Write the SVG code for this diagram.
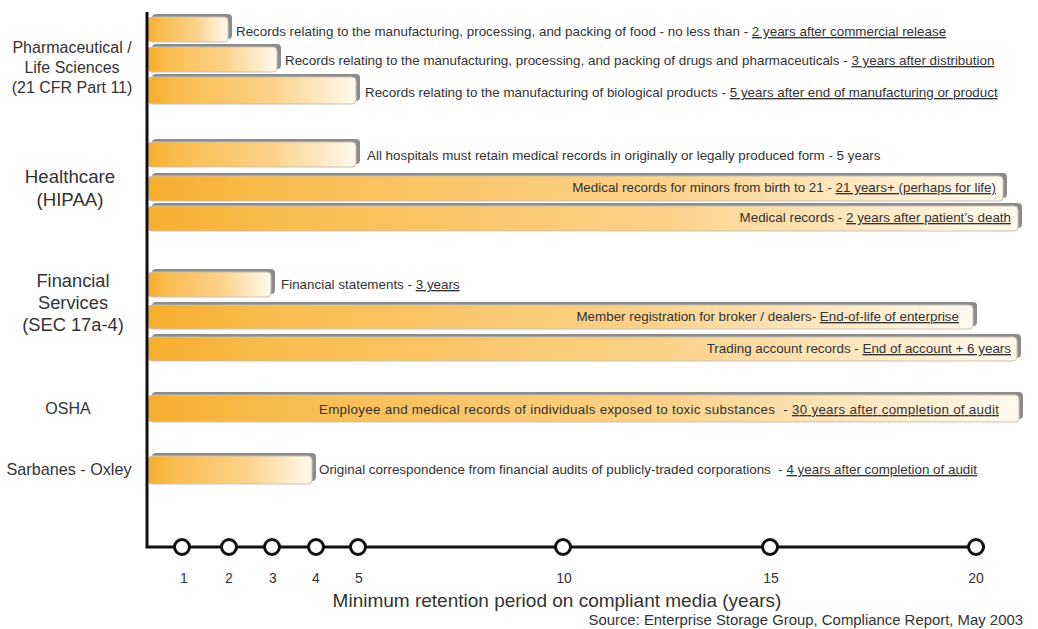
<svg xmlns="http://www.w3.org/2000/svg" width="1038" height="629" viewBox="0 0 1038 629">
<defs>
<linearGradient id="g" x1="0" y1="0" x2="1" y2="0">
<stop offset="0" stop-color="#F7AE2E"/>
<stop offset="0.15" stop-color="#F9BC4E"/>
<stop offset="0.6" stop-color="#FCD28A"/>
<stop offset="1" stop-color="#FFF9EE"/>
</linearGradient>
<style>
.sh{fill:#8c8c8c}
.bar{fill:url(#g);stroke:#c9c2b6;stroke-width:1}
.t{font-family:"Liberation Sans",Arial,sans-serif;font-size:13.4px;fill:#333}
.lab{font-family:"Liberation Sans",Arial,sans-serif;fill:#333;text-anchor:middle}
.u{text-decoration:underline}
.ax{stroke:#111;stroke-width:3;fill:none}
.c{fill:#fff;stroke:#111;stroke-width:3}
.tick{font-family:"Liberation Sans",Arial,sans-serif;font-size:14px;fill:#333;text-anchor:middle}
</style>
</defs>
<rect width="1038" height="629" fill="#fff"/>

<g id="labels">
<g id="pharma"><text class="lab" font-size="16" x="72" y="53">Pharmaceutical /</text><text class="lab" font-size="16" x="72" y="73">Life Sciences</text><text class="lab" font-size="16" x="72" y="93">(21 CFR Part 11)</text></g>
<g id="health"><text class="lab" font-size="18.7" x="70" y="183">Healthcare</text><text class="lab" font-size="18.7" x="70" y="206">(HIPAA)</text></g>
<g id="fin"><text class="lab" font-size="18.3" x="73" y="287">Financial</text><text class="lab" font-size="18.3" x="73" y="309">Services</text><text class="lab" font-size="18.3" x="73" y="331">(SEC 17a-4)</text></g>
<g id="osha"><text class="lab" font-size="16" x="68" y="414">OSHA</text></g>
<g id="sox"><text class="lab" font-size="16.2" x="69" y="475">Sarbanes - Oxley</text></g>
</g>

<g id="bars">
<g id="b1"><rect class="sh" x="152" y="14" width="80" height="25" rx="4"/><rect class="bar" x="148" y="17" width="80" height="25" rx="4"/>
<text class="t" x="236" y="36">Records relating to the manufacturing, processing, and packing of food - no less than - <tspan class="u">2 years after commercial release</tspan></text></g>
<g id="b2"><rect class="sh" x="152" y="44" width="129" height="25" rx="4"/><rect class="bar" x="148" y="47" width="129" height="25" rx="4"/>
<text class="t" x="285" y="65">Records relating to the manufacturing, processing, and packing of drugs and pharmaceuticals - <tspan class="u">3 years after distribution</tspan></text></g>
<g id="b3"><rect class="sh" x="152" y="74" width="208" height="27" rx="4"/><rect class="bar" x="148" y="77" width="208" height="27" rx="4"/>
<text class="t" x="365" y="97">Records relating to the manufacturing of biological products - <tspan class="u">5 years after end of manufacturing or product</tspan></text></g>
<g id="b4"><rect class="sh" x="152" y="139" width="208" height="25" rx="4"/><rect class="bar" x="148" y="142" width="208" height="25" rx="4"/>
<text class="t" x="367" y="160">All hospitals must retain medical records in originally or legally produced form - 5 years</text></g>
<g id="b5"><rect class="sh" x="152" y="173" width="855" height="25" rx="4"/><rect class="bar" x="148" y="176" width="855" height="25" rx="4"/>
<text class="t" x="996" y="192" text-anchor="end">Medical records for minors from birth to 21 - <tspan class="u">21 years+ (perhaps for life)</tspan></text></g>
<g id="b6"><rect class="sh" x="152" y="203" width="870" height="25" rx="4"/><rect class="bar" x="148" y="206" width="870" height="25" rx="4"/>
<text class="t" x="1011" y="222" text-anchor="end">Medical records - <tspan class="u">2 years after patient’s death</tspan></text></g>
<g id="b7"><rect class="sh" x="152" y="269" width="123" height="25" rx="4"/><rect class="bar" x="148" y="272" width="123" height="25" rx="4"/>
<text class="t" x="281" y="289">Financial statements - <tspan class="u">3 years</tspan></text></g>
<g id="b8"><rect class="sh" x="152" y="302" width="825" height="24" rx="4"/><rect class="bar" x="148" y="305" width="825" height="24" rx="4"/>
<text class="t" x="959" y="321" text-anchor="end">Member registration for broker / dealers- <tspan class="u">End-of-life of enterprise</tspan></text></g>
<g id="b9"><rect class="sh" x="152" y="334" width="869" height="24" rx="4"/><rect class="bar" x="148" y="337" width="869" height="24" rx="4"/>
<text class="t" x="1011" y="353" text-anchor="end">Trading account records - <tspan class="u">End of account + 6 years</tspan></text></g>
<g id="b10"><rect class="sh" x="152" y="392" width="871" height="27" rx="4"/><rect class="bar" x="148" y="395" width="871" height="27" rx="4"/>
<text class="t" x="319" y="414" textLength="680" lengthAdjust="spacing" xml:space="preserve">Employee and medical records of individuals exposed to toxic substances  - <tspan class="u">30 years after completion of audit</tspan></text></g>
<g id="b11"><rect class="sh" x="152" y="453" width="164" height="28" rx="4"/><rect class="bar" x="148" y="456" width="164" height="28" rx="4"/>
<text class="t" x="319" y="474" xml:space="preserve">Original correspondence from financial audits of publicly-traded corporations  - <tspan class="u">4 years after completion of audit</tspan></text></g>
</g>

<g id="axes">
<polyline class="ax" points="147,12 147,547 985,547"/>
<circle class="c" cx="182" cy="547" r="7.5"/>
<circle class="c" cx="229" cy="547" r="7.5"/>
<circle class="c" cx="272" cy="547" r="7.5"/>
<circle class="c" cx="316" cy="547" r="7.5"/>
<circle class="c" cx="358" cy="547" r="7.5"/>
<circle class="c" cx="563" cy="547" r="7.5"/>
<circle class="c" cx="770" cy="547" r="7.5"/>
<circle class="c" cx="976" cy="547" r="7.5"/>
<text class="tick" x="184" y="583">1</text>
<text class="tick" x="229" y="583">2</text>
<text class="tick" x="273" y="583">3</text>
<text class="tick" x="316" y="583">4</text>
<text class="tick" x="359" y="583">5</text>
<text class="tick" x="564" y="583">10</text>
<text class="tick" x="771" y="583">15</text>
<text class="tick" x="976" y="583">20</text>
<text class="lab" font-size="19" x="557" y="607">Minimum retention period on compliant media (years)</text>
<text font-family="Liberation Sans, Arial, sans-serif" font-size="14.9" fill="#333" x="1023" y="625" text-anchor="end">Source: Enterprise Storage Group, Compliance Report, May 2003</text>
</g>
</svg>
